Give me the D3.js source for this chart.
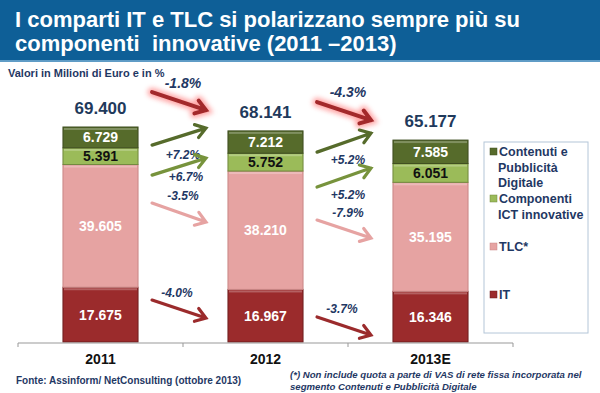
<!DOCTYPE html>
<html>
<head>
<meta charset="utf-8">
<script src="https://cdn.jsdelivr.net/npm/d3@7"></script>
<style>
body { margin:0; background:#fff; }
text { font-family: "Liberation Sans", Arial, sans-serif; }
</style>
</head>
<body>
<div id="chart"></div>
<script>

// data
var years = ["2011", "2012", "2013E"];
var seriesNames = ["IT", "TLC*", "Componenti ICT innovative", "Contenuti e Pubblicità Digitale"];
var itValues = [17675, 16967, 16346];
var tlcValues = [39605, 38210, 35195];
var compValues = [5391, 5752, 6051];
var contValues = [6729, 7212, 7585];
var totals = [69400, 68141, 65177];
var totalChanges = ["-1.8%", "-4.3%"];
var itChanges = ["-4.0%", "-3.7%"];
var tlcChanges = ["-3.5%", "-7.9%"];
var compChanges = ["+6.7%", "+5.2%"];
var contChanges = ["+7.2%", "+5.2%"];

var fmt = function(v) { return d3.format(",")(v).replace(/,/g, "."); };

var W = 600, H = 393;
var svg = d3.select("#chart").append("svg").attr("width", W).attr("height", H);

var defs = svg.append("defs");
var glow = defs.append("filter").attr("id", "glow").attr("x", "-50%").attr("y", "-50%").attr("width", "200%").attr("height", "200%");
glow.append("feGaussianBlur").attr("stdDeviation", 2.5);

// title band
svg.append("rect").attr("x", 0).attr("y", 0).attr("width", W).attr("height", 60).attr("fill", "#0e5f97");
svg.append("rect").attr("x", 0).attr("y", 60).attr("width", W).attr("height", 2).attr("fill", "#5f9cc6");
svg.append("text").attr("x", 15).attr("y", 27).attr("fill", "#fff").attr("font-size", 22).attr("font-weight", "bold")
  .text("I comparti IT e TLC si polarizzano sempre più su");
svg.append("text").attr("x", 15).attr("y", 51).attr("fill", "#fff").attr("font-size", 22).attr("font-weight", "bold")
  .text("componenti\u00a0 innovative (2011 \u20132013)");

svg.append("text").attr("x", 8).attr("y", 77).attr("fill", "#1f3864").attr("font-size", 11).attr("font-weight", "bold")
  .text("Valori in Milioni di Euro e in %");

var x = d3.scaleBand().domain(years).range([18, 513]).paddingInner(0.545).paddingOuter(0.2725);
var y = d3.scaleLinear().domain([0, 69400]).range([342, 127]);

var colors = ["#9b2b2c", "#e6a3a2", "#9bbb59", "#566b2b"];
var strokes = ["#6e1e1f", "#c98786", "#71893e", "#3d4c1f"];
var labelColors = ["#fff", "#fff", "#111", "#fff"];

var table = years.map(function(yr, i) {
  return { year: yr, IT: itValues[i], "TLC*": tlcValues[i], "Componenti ICT innovative": compValues[i], "Contenuti e Pubblicità Digitale": contValues[i] };
});
var stack = d3.stack().keys(seriesNames)(table);

var g = svg.append("g");
stack.forEach(function(layer, li) {
  layer.forEach(function(d, i) {
    var x0 = x(years[i]), bw = x.bandwidth();
    var y0 = y(d[1]), h = y(d[0]) - y(d[1]);
    g.append("rect").attr("x", x0).attr("y", y0).attr("width", bw).attr("height", h)
      .attr("fill", colors[li]).attr("stroke", strokes[li]).attr("stroke-width", 1);
    g.append("rect").attr("x", x0 + 1).attr("y", y0 + 1).attr("width", bw - 2).attr("height", 2)
      .attr("fill", "#fff").attr("opacity", 0.25);
    g.append("text").attr("x", x0 + bw / 2).attr("y", (y0 + y(d[0])) / 2 + 5)
      .attr("text-anchor", "middle").attr("font-size", 14).attr("font-weight", "bold")
      .attr("fill", labelColors[li]).text(fmt(d[1] - d[0]));
  });
});

// totals
totals.forEach(function(t, i) {
  svg.append("text").attr("x", x(years[i]) + x.bandwidth() / 2)
    .attr("y", y(t) - 13)
    .attr("text-anchor", "middle").attr("font-size", 17).attr("font-weight", "bold").attr("fill", "#1f3a5c").text(fmt(t));
});

// axis
var axisY = y(0) + 1;
svg.append("line").attr("x1", 18).attr("x2", 513).attr("y1", axisY).attr("y2", axisY).attr("stroke", "#999");
[18, x(years[1]) - x.step() * x.paddingInner() / 2, x(years[2]) - x.step() * x.paddingInner() / 2, 513].forEach(function(tx) {
  svg.append("line").attr("x1", tx).attr("x2", tx).attr("y1", axisY).attr("y2", axisY + 4).attr("stroke", "#999");
});
years.forEach(function(yr) {
  svg.append("text").attr("x", x(yr) + x.bandwidth() / 2).attr("y", 364).attr("text-anchor", "middle")
    .attr("font-size", 14).attr("font-weight", "bold").attr("fill", "#111").text(yr);
});

// change arrows (positions in value units between bars)
var arrows = [
  { from: 0, yFrom: 80645, yTo: 74839, color: "#a3292b", glow: true, label: totalChanges[0], ly: 83300, lx: 0 },
  { from: 1, yFrom: 77419, yTo: 71613, color: "#a3292b", glow: true, label: totalChanges[1], ly: 80300, lx: 0 },
  { from: 0, yFrom: 63548, yTo: 69032, color: "#566b2b", label: contChanges[0], ly: 60300, lx: 0 },
  { from: 1, yFrom: 61290, yTo: 67419, color: "#566b2b", label: contChanges[1], ly: 58700, lx: 0 },
  { from: 0, yFrom: 53871, yTo: 59355, color: "#77933c", label: compChanges[0], ly: 53200, lx: 3 },
  { from: 1, yFrom: 50000, yTo: 56129, color: "#77933c", label: compChanges[1], ly: 47300, lx: 0 },
  { from: 0, yFrom: 44839, yTo: 38710, color: "#e6a3a2", label: tlcChanges[0], ly: 47000, lx: 0 },
  { from: 1, yFrom: 39355, yTo: 33548, color: "#e6a3a2", label: tlcChanges[1], ly: 41500, lx: 0 },
  { from: 0, yFrom: 13548, yTo: 7742, color: "#9b2b2c", label: itChanges[0], ly: 15800, lx: -6 },
  { from: 1, yFrom: 8065, yTo: 2258, color: "#9b2b2c", label: itChanges[1], ly: 10700, lx: -6 }
];

arrows.forEach(function(a) {
  var xa = x(years[a.from]) + x.bandwidth() + 14;
  var xb = x(years[a.from + 1]) - 22;
  var ya = y(a.yFrom), yb = y(a.yTo);
  var ang = Math.atan2(yb - ya, xb - xa);
  var hl = 12, hw = 0.6;
  var p1 = [xb - hl * Math.cos(ang - hw), yb - hl * Math.sin(ang - hw)];
  var p2 = [xb - hl * Math.cos(ang + hw), yb - hl * Math.sin(ang + hw)];
  var path = "M" + xa + "," + ya + "L" + xb + "," + yb + "M" + p1 + "L" + xb + "," + yb + "L" + p2;
  if (a.glow) {
    svg.append("path").attr("d", path).attr("fill", "none").attr("stroke", "#ff7f7f").attr("stroke-width", 9)
      .attr("stroke-linecap", "round").attr("opacity", 0.7).attr("filter", "url(#glow)");
  }
  svg.append("path").attr("d", path).attr("fill", "none").attr("stroke", a.color)
    .attr("stroke-width", a.glow ? 4 : 3.2).attr("stroke-linecap", "round").attr("stroke-linejoin", "miter");
  svg.append("text").attr("x", (xa + xb) / 2 + 4 + a.lx).attr("y", y(a.ly) + 4).attr("text-anchor", "middle")
    .attr("font-size", a.glow ? 14 : 12).attr("font-weight", "bold").attr("font-style", "italic")
    .attr("fill", "#1f3864").text(a.label);
});

// legend
var lg = svg.append("g");
lg.append("rect").attr("x", 484).attr("y", 142).attr("width", 104).attr("height", 191)
  .attr("fill", "#fff").attr("stroke", "#b4c6d8").attr("stroke-width", 1);
var legendLines = [
  { lines: ["Contenuti e", "Pubblicità", "Digitale"], y: 156, c: 3 },
  { lines: ["Componenti", "ICT innovative"], y: 203, c: 2 },
  { lines: ["TLC*"], y: 251, c: 1 },
  { lines: ["IT"], y: 299, c: 0 }
];
legendLines.forEach(function(l) {
  lg.append("rect").attr("x", 490).attr("y", l.y - 8).attr("width", 7).attr("height", 7)
    .attr("fill", colors[l.c]).attr("stroke", strokes[l.c]).attr("stroke-width", 0.5);
  l.lines.forEach(function(s, k) {
    lg.append("text").attr("x", k === 0 ? 499 : 498).attr("y", l.y + k * 15.5).attr("font-size", 12.5)
      .attr("font-weight", "bold").attr("fill", "#1f3864").text(s);
  });
});

// footer
svg.append("text").attr("x", 16).attr("y", 384).attr("font-size", 10).attr("font-weight", "bold").attr("fill", "#1f3864")
  .text("Fonte: Assinform/ NetConsulting (ottobre 2013)");
svg.append("text").attr("x", 290).attr("y", 378).attr("font-size", 9.6).attr("font-weight", "bold").attr("font-style", "italic").attr("fill", "#1f3864")
  .text("(*) Non include quota a parte di VAS di rete fissa incorporata nel");
svg.append("text").attr("x", 290).attr("y", 390).attr("font-size", 9.6).attr("font-weight", "bold").attr("font-style", "italic").attr("fill", "#1f3864")
  .text("segmento Contenuti e Pubblicità Digitale");

</script>
</body>
</html>
